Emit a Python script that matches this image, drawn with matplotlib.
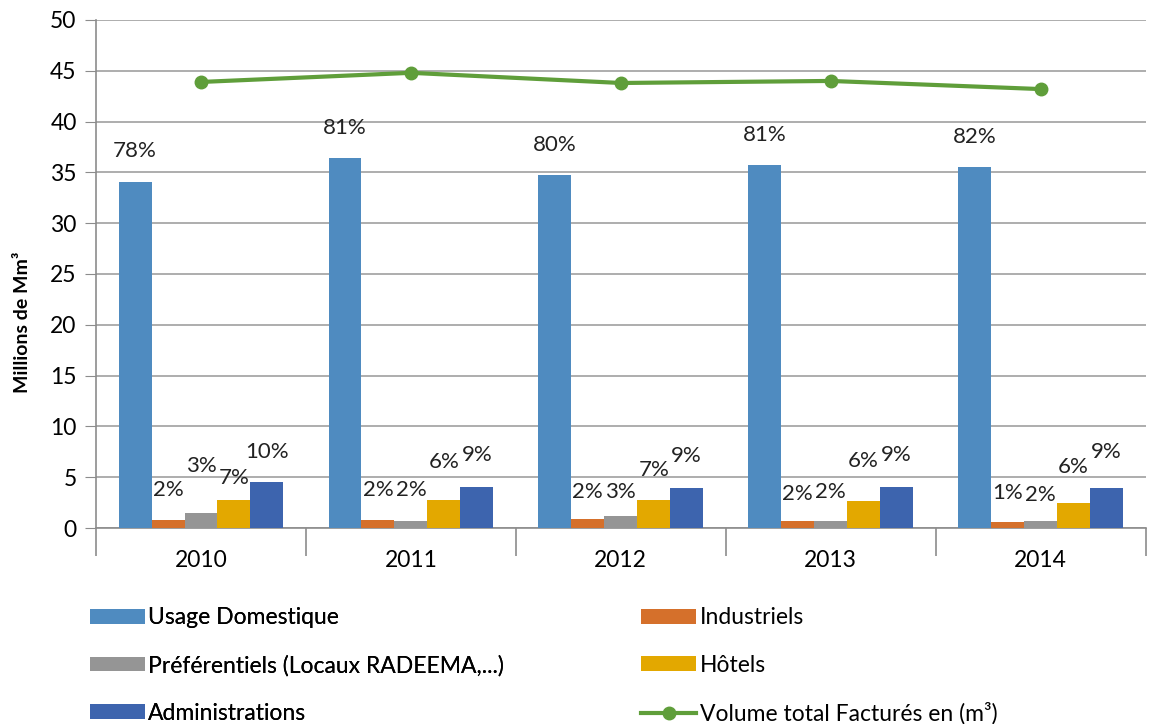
import matplotlib.pyplot as plt
import numpy as np

plt.rcParams['font.family'] = ['Lato', 'DejaVu Sans']

years = ['2010', '2011', '2012', '2013', '2014']

# volumes in millions of m3
domestique = [34.1, 36.4, 34.7, 35.7, 35.5]
industriels = [0.8, 0.8, 0.9, 0.7, 0.6]
preferentiels = [1.5, 0.7, 1.2, 0.7, 0.7]
hotels = [2.8, 2.8, 2.8, 2.7, 2.5]
administrations = [4.5, 4.0, 3.9, 4.0, 3.9]
total = [43.9, 44.8, 43.8, 44.0, 43.2]

# share of each user group, in %
pct_domestique = [78, 81, 80, 81, 82]
pct_industriels = [2, 2, 2, 2, 1]
pct_preferentiels = [3, 2, 3, 2, 2]
pct_hotels = [7, 6, 7, 6, 6]
pct_administrations = [10, 9, 9, 9, 9]

series = [
    ('Usage Domestique', domestique, pct_domestique, '#4F8BC0'),
    ('Industriels', industriels, pct_industriels, '#D5702B'),
    ('Préférentiels (Locaux RADEEMA,...)', preferentiels, pct_preferentiels, '#959595'),
    ('Hôtels', hotels, pct_hotels, '#E3A800'),
    ('Administrations', administrations, pct_administrations, '#3D64AE'),
]

# label lift above each bar (data units), staggered so labels don't collide
lift = [
    [3.0, 3.0, 3.0, 3.0, 3.0],
    [2.9, 2.9, 2.6, 2.6, 2.8],
    [4.6, 3.0, 2.3, 2.8, 2.5],
    [2.1, 3.7, 2.9, 3.9, 3.5],
    [3.0, 3.2, 3.2, 3.2, 3.6],
]

fig = plt.figure(figsize=(11.49, 7.24), dpi=100)
ax = fig.add_axes([0.0836, 0.2707, 0.9134, 0.7017])

x = np.arange(len(years))
w = 0.157
for i, (name, vals, pcts, col) in enumerate(series):
    pos = x + (i - 2) * w
    ax.bar(pos, vals, w, color=col, label=name, zorder=3)
    for j in range(len(years)):
        ax.text(pos[j], vals[j] + lift[i][j], f'{pcts[j]}%', ha='center',
                va='center', fontsize=16, color='#222222', zorder=4)

ax.plot(x, total, color='#5F9E3A', lw=3, marker='o', ms=9,
        label='Volume total Facturés en (m³)', zorder=5)

ax.set_xlim(-0.5, 4.5)
ax.set_ylim(0, 50)
ax.set_yticks(range(0, 51, 5))
ax.grid(axis='y', color='#A0A0A0', lw=1.2, zorder=0)
ax.set_xticks(x)
ax.set_xticklabels(years)
ax.tick_params(axis='x', length=0, labelsize=16.5, pad=16)
ax.tick_params(axis='y', length=8, color='#8C8C8C', labelsize=16.5, pad=6)
ax.set_xticks(np.arange(-0.5, 5, 1), minor=True)
ax.tick_params(axis='x', which='minor', length=20, color='#8C8C8C', width=1.2)
for s in ['top', 'right']:
    ax.spines[s].set_visible(False)
for s in ['left', 'bottom']:
    ax.spines[s].set_color('#8C8C8C')
    ax.spines[s].set_linewidth(1.2)
ax.set_ylabel('Millions de Mm³', fontsize=14, fontweight='bold')
ax.yaxis.set_label_coords(-0.062, 0.405)

# legend: two columns placed separately
h, l = ax.get_legend_handles_labels()
leg_kw = dict(loc='upper left', frameon=False, fontsize=16.5, handlelength=2.4,
              handleheight=0.6, handletextpad=0.15, borderpad=0,
              labelspacing=1.15)
left = fig.legend([h[k] for k in [1, 3, 5]], [l[k] for k in [1, 3, 5]],
                  bbox_to_anchor=(0.068, 0.177), **leg_kw)
fig.legend([h[k] for k in [2, 4, 0]], [l[k] for k in [2, 4, 0]],
           bbox_to_anchor=(0.548, 0.177), **leg_kw)
fig.add_artist(left)

fig.savefig('out.png', dpi=100)
